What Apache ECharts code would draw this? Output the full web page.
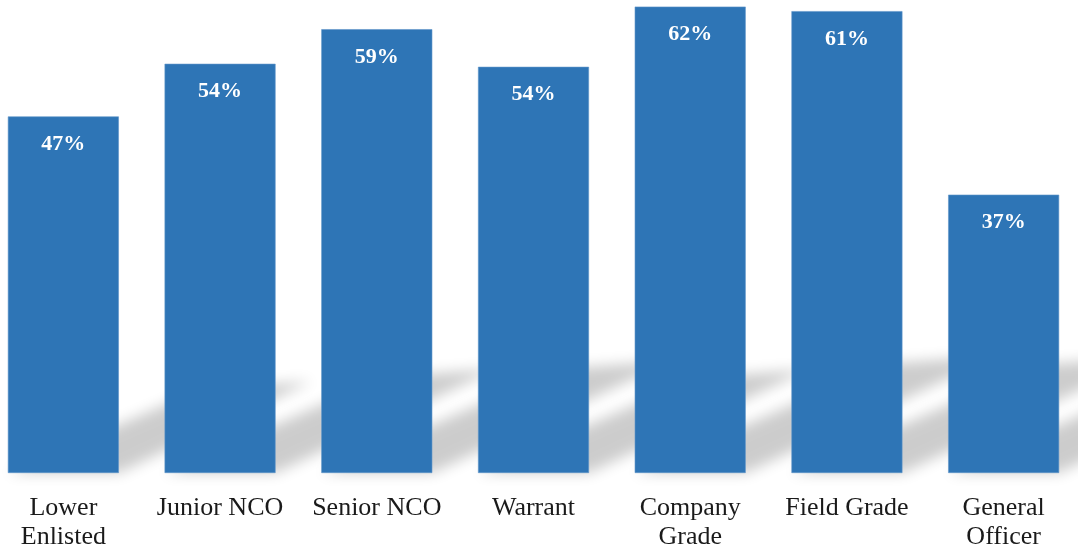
<!DOCTYPE html>
<html>
<head>
<meta charset="utf-8">
<script src="https://cdn.jsdelivr.net/npm/echarts@6/dist/echarts.min.js"></script>
<style>
html,body{margin:0;padding:0;background:#fff;overflow:hidden;width:1078px;height:552px;}
#chart{position:absolute;left:-15px;top:0;width:1097px;height:552px;}
</style>
</head>
<body>
<div id="chart"></div>
<script>
// Data
var categories = ['Lower\nEnlisted', 'Junior NCO', 'Senior NCO', 'Warrant', 'Company\nGrade', 'Field Grade', 'General\nOfficer'];
var values = [47.4, 54.4, 59.0, 54.0, 62.0, 61.4, 37.0];

var chart = echarts.init(document.getElementById('chart'), null, {renderer: 'canvas'});

var shadowData = values.map(function (v, i) { return [i, v]; });
var OFF = 3000;

function renderShadow(params, api) {
  var idx = api.value(0);
  var val = api.value(1);
  var top = api.coord([idx, val]);
  var base = api.coord([idx, 0]);
  var w = 111;
  var x0 = base[0] - w / 2, x1 = base[0] + w / 2;
  var h = base[1] - top[1];
  var H = h * 0.235;
  var dx = H * 2.3;
  var pts = [
    [x0 - OFF, base[1]],
    [x1 - OFF, base[1]],
    [x1 + dx - OFF, base[1] - H - 8],
    [x0 + dx - OFF, base[1] - H]
  ];
  return {
    type: 'polygon',
    shape: {points: pts},
    style: {
      fill: '#000',
      shadowBlur: 14,
      shadowColor: 'rgba(0,0,0,0.2)',
      shadowOffsetX: OFF,
      shadowOffsetY: 0
    },
    silent: true
  };
}

chart.setOption({
  animation: false,
  backgroundColor: '#ffffff',
  grid: {left: 0, right: 0, top: 0, bottom: 76, containLabel: false},
  xAxis: {
    type: 'category',
    data: categories,
    axisLine: {show: false},
    axisTick: {show: false},
    axisLabel: {
      interval: 0,
      margin: 21,
      color: '#1a1a1a',
      fontFamily: '"Liberation Serif", "DejaVu Serif", serif',
      fontSize: 26,
      lineHeight: 29
    }
  },
  yAxis: {
    type: 'value',
    min: 0,
    max: 62.88,
    show: false,
    splitLine: {show: false}
  },
  series: [
    {
      type: 'custom',
      renderItem: renderShadow,
      data: shadowData,
      z: 1,
      silent: true,
      clip: false
    },
    {
      type: 'bar',
      data: values,
      barWidth: 111,
      z: 5,
      itemStyle: {color: '#2E75B6', borderColor: '#5f95c9', borderWidth: 0.6},
      label: {
        show: true,
        position: 'insideTop',
        distance: 17,
        color: '#ffffff',
        fontWeight: 'bold',
        fontFamily: '"Liberation Serif", "DejaVu Serif", serif',
        fontSize: 22,
        formatter: function (p) { return Math.round(p.value) + '%'; }
      }
    }
  ]
});
</script>
</body>
</html>
